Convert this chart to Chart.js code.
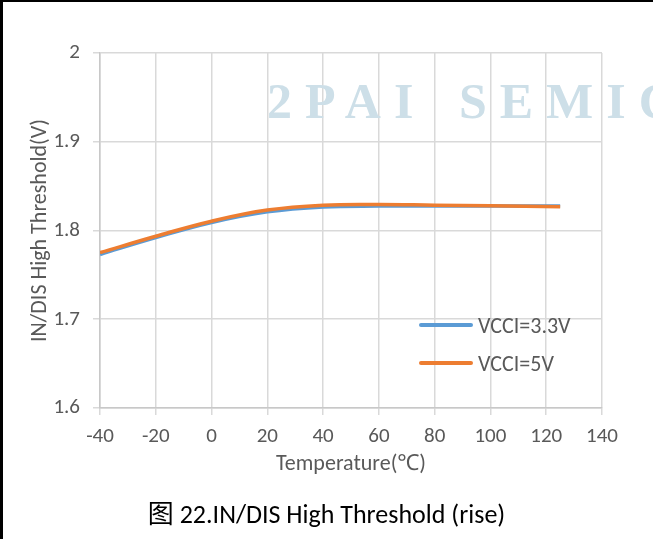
<!DOCTYPE html>
<html>
<head>
<meta charset="utf-8">
<script src="https://cdn.jsdelivr.net/npm/chart.js@4.4.0/dist/chart.umd.min.js"></script>
<style>
  html, body { margin: 0; padding: 0; background: #fff; }
  #page {
    position: relative; width: 653px; height: 539px; overflow: hidden;
    box-sizing: border-box; border-left: 3px solid #000; border-top: 2px solid #000;
  }
  #chartBox { position: absolute; left: -3px; top: -2px; width: 653px; height: 539px; }
  #watermark {
    position: absolute; left: 264px; top: 74px; white-space: nowrap;
    font-family: "Liberation Serif", serif; font-weight: bold; font-size: 50px;
    line-height: 50px; letter-spacing: 13px; word-spacing: 7px; color: #cddfe8;
  }
  .legend {
    position: absolute; left: 416px; height: 26px; display: flex; align-items: center;
    font-family: Carlito, "Noto Sans", sans-serif; font-size: 22px; color: #595959;
  }
  .legend span.sw { display: inline-block; width: 54px; height: 4px; border-radius: 2px; margin-right: 5px; }
  #caption {
    position: absolute; left: -3px; width: 653px; top: 491px; text-align: center;
    font-family: Carlito, "Noto Sans", "Noto Sans CJK SC", sans-serif; font-size: 26px; color: #000;
  }
</style>
</head>
<body>
<div id="page">
  <div id="chartBox"><canvas id="chart"></canvas></div>
  <div id="watermark">2PAI SEMICONDUCTOR</div>
  <div class="legend" style="top:310px"><span class="sw" style="background:#5b9bd5"></span>VCCI=3.3V</div>
  <div class="legend" style="top:348px"><span class="sw" style="background:#ed7d31"></span>VCCI=5V</div>
  <div id="caption">图 22.IN/DIS High Threshold (rise)</div>
</div>
<script>
// temperature points (°C)
const temps = [-40, -20, 0, 20, 40, 60, 80, 100, 125];
// threshold readings (V)
const vcci33 = [1.773, 1.792, 1.809, 1.821, 1.8265, 1.8275, 1.8275, 1.8275, 1.8275];
const vcci5 = [1.775, 1.7935, 1.8105, 1.823, 1.8285, 1.8293, 1.8285, 1.8278, 1.8267];
const seriesNames = ['VCCI=3.3V', 'VCCI=5V'];

const toPoints = (xs, ys) => xs.map((x, i) => ({ x: x, y: ys[i] }));

const fontFamily = 'Carlito, "Noto Sans", sans-serif';
const tickFont = { family: fontFamily, size: 21 };
const titleFont = { family: fontFamily, size: 22 };
const gridColor = '#d9d9d9';
const PAD = { left: 27, top: 53, right: 51, bottom: 61 };

new Chart(document.getElementById('chart'), {
    type: 'line',
    data: {
        datasets: [{
            label: seriesNames[0],
            data: toPoints(temps, vcci33),
            borderColor: '#5b9bd5',
            borderWidth: 3.5,
            pointRadius: 0,
            tension: 0.4,
            order: 2
        }, {
            label: seriesNames[1],
            data: toPoints(temps, vcci5),
            borderColor: '#ed7d31',
            borderWidth: 3.5,
            pointRadius: 0,
            tension: 0.4,
            order: 1
        }]
    },
    options: {
        responsive: true,
        maintainAspectRatio: false,
        animation: false,
        layout: { padding: PAD },
        plugins: { legend: { display: false }, tooltip: { enabled: false } },
        scales: {
            x: {
                type: 'linear', min: -40, max: 140,
                ticks: { stepSize: 20, color: '#595959', font: tickFont, padding: 9 },
                grid: { color: gridColor, lineWidth: 1.5, tickLength: 7 },
                border: { color: '#c8c8c8', width: 1.5 },
                title: { display: true, text: 'Temperature(℃)', color: '#595959', font: titleFont, padding: 0 },
                afterFit: (scale) => { scale.height = 539 - PAD.bottom - 408; }
            },
            y: {
                min: 1.6, max: 2,
                ticks: { stepSize: 0.1, color: '#595959', font: tickFont, padding: 13,
                         callback: (v) => Math.round(v * 10) / 10 },
                grid: { color: gridColor, lineWidth: 1.5, tickLength: 7 },
                border: { color: '#c8c8c8', width: 1.5 },
                title: { display: true, text: 'IN/DIS High Threshold(V)', color: '#595959', font: titleFont, padding: 0 },
                afterFit: (scale) => { scale.width = 100 - PAD.left; }
            }
        }
    }
});
</script>
</body>
</html>
